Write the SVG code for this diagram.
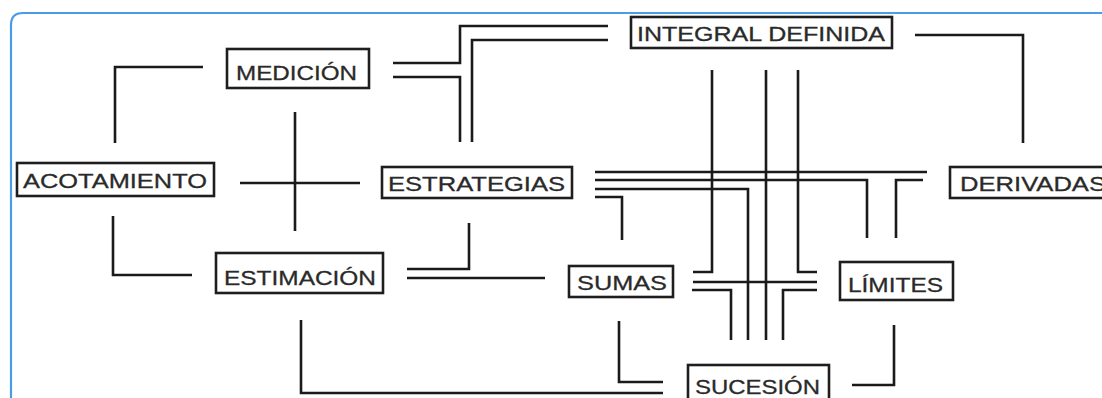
<svg xmlns="http://www.w3.org/2000/svg" width="1102" height="398" viewBox="0 0 1102 398">
  <style>
    .box { fill: #ffffff; stroke: #1e1e1e; stroke-width: 2.6; }
    .lbl { font-family: "Liberation Sans", Arial, sans-serif; font-size: 21px; fill: #2a2a2a; stroke: #2a2a2a; stroke-width: 0.3; }
    .wire { fill: none; stroke: #1a1a1a; stroke-width: 2.6; }
  </style>
  <rect width="1102" height="398" fill="#ffffff"/>
  <!-- page frame -->
  <path d="M11,398 V25 Q11,13 23,13 H1102" fill="none" stroke="#4a9be8" stroke-width="2.2"/>

  <g id="connectors" class="wire">
    <!-- MEDICION / ACOTAMIENTO / ESTIMACION -->
    <path d="M203,67 H115 V143"/>
    <path d="M113,216 V275 H192"/>
    <!-- central cross -->
    <path d="M295,112 V231"/>
    <path d="M240,183 H360"/>
    <!-- MEDICION to INTEGRAL DEFINIDA / ESTRATEGIAS -->
    <path d="M393,63 H460 V26 H608"/>
    <path d="M393,77 H460 V142"/>
    <path d="M608,40 H472 V142"/>
    <!-- INTEGRAL DEFINIDA to DERIVADAS -->
    <path d="M915,35 H1023 V143"/>
    <!-- ESTRATEGIAS to ESTIMACION / SUMAS -->
    <path d="M407,269 H469 V223"/>
    <path d="M407,278 H545"/>
    <!-- ESTIMACION to SUCESION -->
    <path d="M301,320 V393 H663"/>
    <!-- SUMAS to SUCESION -->
    <path d="M619,321 V382 H663"/>
    <!-- LIMITES to SUCESION -->
    <path d="M894,325 V385 H852"/>
    <!-- ESTRATEGIAS bundle -->
    <path d="M595,172 H927"/>
    <path d="M595,180 H867 V238"/>
    <path d="M923,180 H896 V238"/>
    <path d="M595,189 H748 V340"/>
    <path d="M595,197 H622 V240"/>
    <!-- INTEGRAL DEFINIDA bundle -->
    <path d="M712,70 V272 H693"/>
    <path d="M798,70 V272 H817"/>
    <path d="M766,70 V340"/>
    <!-- SUMAS / LIMITES / SUCESION -->
    <path d="M693,282 H817"/>
    <path d="M692,290 H731 V340"/>
    <path d="M817,290 H783 V340"/>
  </g>

  <g id="acotamiento">
    <rect class="box" x="17" y="163" width="197" height="33"/>
    <text class="lbl" x="23" y="188" textLength="184" lengthAdjust="spacingAndGlyphs">ACOTAMIENTO</text>
  </g>
  <g id="medicion">
    <rect class="box" x="227" y="49" width="142" height="39"/>
    <text class="lbl" x="236" y="80" textLength="121" lengthAdjust="spacingAndGlyphs">MEDICIÓN</text>
  </g>
  <g id="integral-definida">
    <rect class="box" x="631" y="17" width="261" height="31"/>
    <text class="lbl" x="637" y="41" textLength="248" lengthAdjust="spacingAndGlyphs">INTEGRAL DEFINIDA</text>
  </g>
  <g id="estrategias">
    <rect class="box" x="382" y="167" width="190" height="31"/>
    <text class="lbl" x="388" y="191" textLength="177" lengthAdjust="spacingAndGlyphs">ESTRATEGIAS</text>
  </g>
  <g id="derivadas">
    <rect class="box" x="950" y="167" width="170" height="31"/>
    <text class="lbl" x="960" y="191" textLength="146" lengthAdjust="spacingAndGlyphs">DERIVADAS</text>
  </g>
  <g id="estimacion">
    <rect class="box" x="216" y="253" width="167" height="40"/>
    <text class="lbl" x="224" y="285" textLength="152" lengthAdjust="spacingAndGlyphs">ESTIMACIÓN</text>
  </g>
  <g id="sumas">
    <rect class="box" x="569" y="266" width="104" height="31"/>
    <text class="lbl" x="577" y="290" textLength="90" lengthAdjust="spacingAndGlyphs">SUMAS</text>
  </g>
  <g id="limites">
    <rect class="box" x="840" y="262" width="113" height="38"/>
    <text class="lbl" x="848" y="292" textLength="95" lengthAdjust="spacingAndGlyphs">LÍMITES</text>
  </g>
  <g id="sucesion">
    <rect class="box" x="688" y="365" width="141" height="40"/>
    <text class="lbl" x="695" y="394" textLength="125" lengthAdjust="spacingAndGlyphs">SUCESIÓN</text>
  </g>
</svg>
